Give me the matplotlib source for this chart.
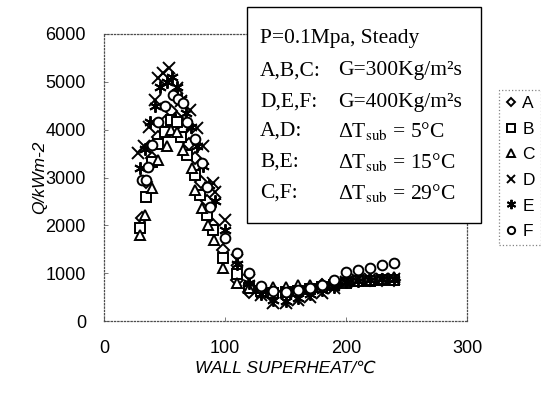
import matplotlib
matplotlib.use("Agg")
import matplotlib.pyplot as plt
from matplotlib.lines import Line2D
from matplotlib.patches import Rectangle

plt.rcParams['font.family'] = ['Liberation Sans', 'DejaVu Sans']
plt.rcParams['mathtext.fontset'] = 'stix'

# ---- data ----
xa = [31, 35, 40, 45, 50, 55, 60, 65, 70, 75, 80, 85, 90, 98, 110, 120, 130, 140, 150, 160, 170, 180, 190, 200, 210, 220, 230, 240]
ya = [2150, 2900, 3400, 3850, 4150, 4400, 4250, 4000, 3700, 3400, 2900, 2500, 2000, 1480, 850, 610, 600, 620, 620, 660, 700, 750, 800, 830, 850, 850, 860, 860]

xb = [30, 35, 40, 45, 50, 55, 60, 64, 69, 75, 79, 85, 90, 98, 110, 120, 130, 140, 150, 160, 170, 180, 190, 200, 210, 220, 230, 240]
yb = [1950, 2600, 3330, 3700, 3950, 4200, 4150, 3850, 3470, 3050, 2640, 2220, 1900, 1320, 980, 700, 620, 580, 600, 620, 660, 710, 760, 800, 830, 840, 850, 850]

xc = [30, 34, 40, 45, 52, 55, 60, 65, 73, 75, 81, 86, 91, 98, 110, 120, 130, 140, 150, 160, 170, 180, 190, 200, 210, 220, 230, 240]
yc = [1800, 2220, 2780, 3370, 3650, 4000, 3950, 3580, 3200, 2740, 2360, 2000, 1700, 1110, 800, 680, 700, 710, 710, 750, 760, 780, 800, 830, 840, 860, 880, 920]

xd = [28, 33, 37, 42, 45, 49, 54, 60, 64, 71, 77, 82, 90, 92, 100, 110, 120, 130, 140, 150, 160, 170, 180, 190, 200, 210, 220, 230, 240]
yd = [3510, 3650, 4050, 4620, 5080, 5190, 5290, 4870, 4600, 4410, 4040, 3650, 2890, 2700, 2110, 1270, 860, 540, 380, 380, 440, 500, 590, 690, 820, 850, 870, 880, 880]

xe = [30, 34, 38, 42, 46, 52, 56, 60, 64, 68, 72, 77, 82, 87, 92, 100, 110, 120, 130, 140, 150, 160, 170, 180, 190, 200, 210, 220, 230, 240]
ye = [3200, 3600, 4160, 4500, 4900, 5000, 5100, 4900, 4650, 4350, 4050, 3650, 3250, 2850, 2500, 1900, 1200, 800, 560, 430, 420, 480, 560, 640, 720, 820, 840, 860, 870, 870]

xf = [31, 35, 36, 40, 45, 50, 57, 61, 65, 69, 75, 81, 85, 88, 100, 110, 120, 130, 140, 150, 160, 170, 180, 190, 200, 210, 220, 230, 240]
yf = [2950, 2950, 3220, 3680, 4160, 4500, 4730, 4650, 4560, 4150, 3800, 3300, 2800, 2390, 1730, 1420, 1000, 730, 620, 610, 650, 690, 750, 860, 1030, 1070, 1100, 1170, 1210]

labels = ['A', 'B', 'C', 'D', 'E', 'F']
xticks = [0, 100, 200, 300]
yticks = [0, 1000, 2000, 3000, 4000, 5000, 6000]

series = [(xa, ya), (xb, yb), (xc, yc), (xd, yd), (xe, ye), (xf, yf)]
markers = ['D', 's', '^', 'x', (6, 2, 0), 'o']
msizes = [6, 7, 7, 8, 9, 7]

fig = plt.figure(figsize=(5.41, 3.94), dpi=100)
ax = fig.add_axes([104/541, 1-321/394, (467-104)/541, (321-34)/394])

for (x, y), m, ms in zip(series, markers, msizes):
    ax.plot(x, y, linestyle='none', marker=m, markersize=ms,
            markerfacecolor='white' if m not in ('x', (6, 2, 0)) else 'none',
            markeredgecolor='black', markeredgewidth=1.4, color='black')

ax.set_xlim(0, 300)
ax.set_ylim(0, 6000)
ax.set_xticks(xticks)
ax.set_yticks(yticks)
ax.tick_params(direction='in', length=3, width=0.6, color='0.4', labelsize=13)
ax.tick_params(axis='x', pad=14)
ax.tick_params(axis='y', pad=13)
for s in ax.spines.values():
    s.set_linestyle(':')
    s.set_linewidth(0.9)
    s.set_color('0.3')

fig.text(285/541, 1-368/394, 'WALL SUPERHEAT/\u2103', ha='center', va='center',
         fontsize=12.5, style='italic')
fig.text(40/541, 1-177/394, 'Q/kWm-2', ha='center', va='center',
         fontsize=12.5, style='italic', rotation=90)

# info box
fig.add_artist(Rectangle((247/541, 1-223/394), (481-247)/541, (223-7)/394,
                         transform=fig.transFigure, facecolor='white',
                         edgecolor='black', linewidth=1.0, zorder=5))
serif = ['Liberation Serif', 'DejaVu Serif']
lx = 260/541
vx = 338/541
ys = [38, 71, 102, 131, 162, 193]
fs = 15.5
fig.text(lx, 1-ys[0]/394, 'P=0.1Mpa, Steady', family=serif, fontsize=fs,
         va='center', zorder=6)
left_txt = ['A,B,C:', 'D,E,F:', 'A,D:', 'B,E:', 'C,F:']
right_txt = ['G=300Kg/m\u00b2s', 'G=400Kg/m\u00b2s',
             '\u0394T$_{\\mathrm{sub}}$ = 5\u00b0C',
             '\u0394T$_{\\mathrm{sub}}$ = 15\u00b0C',
             '\u0394T$_{\\mathrm{sub}}$ = 29\u00b0C']
for yy, lt, rt in zip(ys[1:], left_txt, right_txt):
    fig.text(lx, 1-yy/394, lt, family=serif, fontsize=fs, va='center', zorder=6)
    fig.text(vx, 1-yy/394, rt, family=serif, fontsize=fs, va='center', zorder=6)

# legend
handles = [Line2D([], [], linestyle='none', marker=m, markersize=ms*0.75,
                  markerfacecolor='white' if m not in ('x', (6, 2, 0)) else 'none',
                  markeredgecolor='black', markeredgewidth=1.4)
           for m, ms in zip(markers, msizes)]
leg = fig.legend(handles, labels, loc='upper left',
                 bbox_to_anchor=(499/541, 1-90/394), fontsize=12.5,
                 handlelength=0.7, handletextpad=0.3, labelspacing=0.6,
                 borderpad=0.35, borderaxespad=0, fancybox=False, frameon=True)
fr = leg.get_frame()
fr.set_linestyle(':')
fr.set_edgecolor('0.4')
fr.set_linewidth(0.9)

fig.savefig('out.png', dpi=100)
